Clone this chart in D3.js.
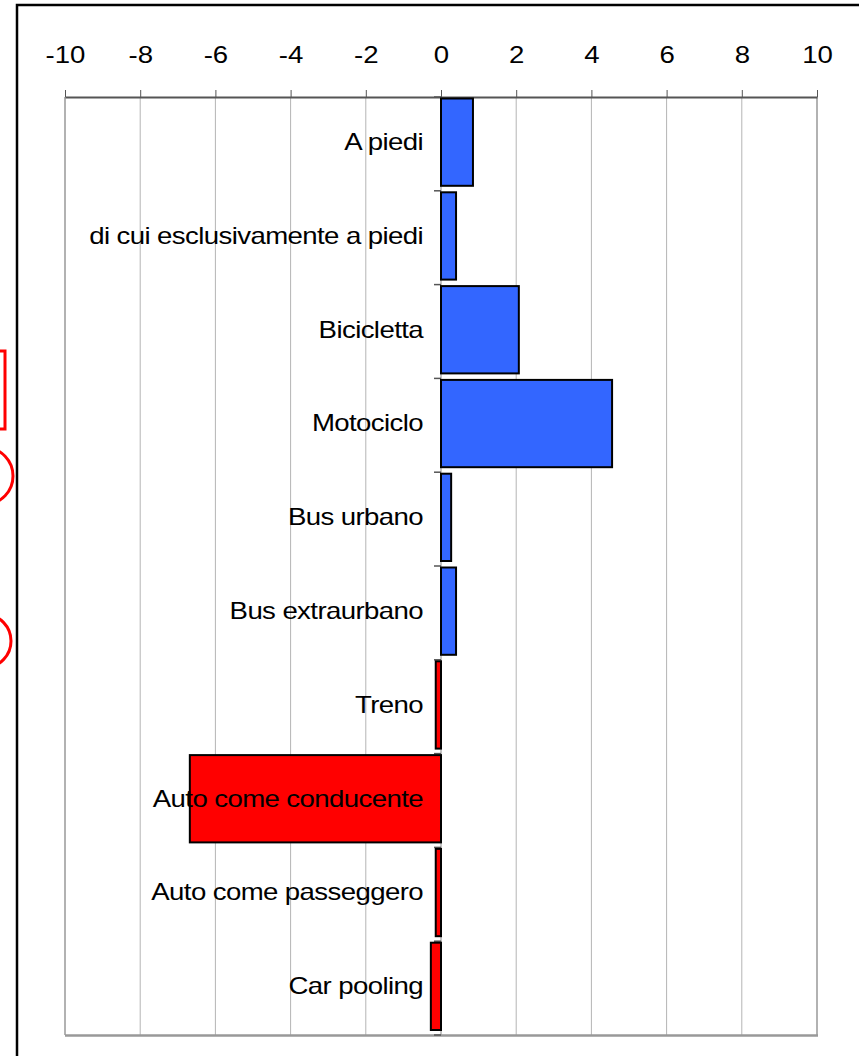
<!DOCTYPE html>
<html><head><meta charset="utf-8">
<script src="https://cdn.jsdelivr.net/npm/d3@7"></script>
<style>body{margin:0;background:#fff;} svg{display:block;}</style>
</head><body>
<svg id="c" width="859" height="1056"></svg>
<script>
const categories = ["A piedi","di cui esclusivamente a piedi","Bicicletta","Motociclo","Bus urbano","Bus extraurbano","Treno","Auto come conducente","Auto come passeggero","Car pooling"];
const values = [0.85, 0.4, 2.07, 4.55, 0.27, 0.4, -0.14, -6.68, -0.14, -0.27];
const tickValues = [-10,-8,-6,-4,-2,0,2,4,6,8,10];
const tickLabels = ["-10","-8","-6","-4","-2","0","2","4","6","8","10"];

const svg = d3.select("#c");
const L = 65, R = 817, T = 97, B = 1035;
const x = d3.scaleLinear().domain([-10,10]).range([L,R]);
const y = d3.scaleBand().domain(categories).range([T,B]).paddingInner(0).paddingOuter(0);
const bw = y.bandwidth();
const font = "'Liberation Sans', Arial, sans-serif";
const sx = 1.2;

// outer frame
svg.append("rect").attr("x",17).attr("y",5).attr("width",1000).attr("height",1200)
  .attr("fill","none").attr("stroke","#000").attr("stroke-width",2.5);

// red annotations at left edge
svg.append("rect").attr("x",-20).attr("y",351).attr("width",25).attr("height",78)
  .attr("fill","none").attr("stroke","#f00").attr("stroke-width",3);
svg.append("ellipse").attr("cx",-14).attr("cy",476).attr("rx",27).attr("ry",28)
  .attr("fill","none").attr("stroke","#f00").attr("stroke-width",3);
svg.append("ellipse").attr("cx",-14).attr("cy",641).attr("rx",25).attr("ry",26)
  .attr("fill","none").attr("stroke","#f00").attr("stroke-width",3);

// gridlines
svg.append("g").selectAll("line").data(tickValues.filter(d=>d!==-10 && d!==10)).join("line")
  .attr("x1",d=>x(d)).attr("x2",d=>x(d)).attr("y1",T).attr("y2",B)
  .attr("stroke",d=>d===0?"#888":"#b4b4b4").attr("stroke-width",1);

// plot border
svg.append("line").attr("x1",L).attr("x2",L).attr("y1",T).attr("y2",B).attr("stroke","#999").attr("stroke-width",1.5);
svg.append("line").attr("x1",R).attr("x2",R).attr("y1",T).attr("y2",B).attr("stroke","#999").attr("stroke-width",1.5);
svg.append("line").attr("x1",L).attr("x2",R+1).attr("y1",B+0.5).attr("y2",B+0.5).attr("stroke","#999").attr("stroke-width",2.5);

// top axis
const axis = d3.axisTop(x).tickValues(tickValues).tickFormat((d,i)=>tickLabels[i]).tickSize(7).tickSizeOuter(0);
const ag = svg.append("g").attr("transform",`translate(0,${T})`).call(axis);
ag.attr("font-size",null).attr("font-family",null);
ag.select(".domain").attr("stroke","#555").attr("stroke-width",2);
ag.selectAll(".tick line").attr("stroke","#555").attr("stroke-width",1);
ag.selectAll(".tick text")
  .attr("fill","#000")
  .style("font-family",font).style("font-size","23px")
  .attr("y",0).attr("dy",0).attr("x",0)
  .attr("text-anchor","middle")
  .attr("transform",`translate(0,-34) scale(${sx},1)`);

// category ticks at zero
svg.append("g").selectAll("line").data(d3.range(categories.length+1)).join("line")
  .attr("x1",x(0)-7).attr("x2",x(0)).attr("y1",i=>T+i*bw).attr("y2",i=>T+i*bw)
  .attr("stroke","#555").attr("stroke-width",1.5);

// bars
svg.append("g").selectAll("rect").data(categories).join("rect")
  .attr("x",(d,i)=>x(Math.min(0,values[i])))
  .attr("width",(d,i)=>Math.abs(x(values[i])-x(0)))
  .attr("y",d=>y(d)+1.5)
  .attr("height",bw-6.5)
  .attr("fill",(d,i)=>values[i]>=0?"#3366ff":"#ff0000")
  .attr("stroke","#000").attr("stroke-width",2);

// category labels
svg.append("g").selectAll("text").data(categories).join("text")
  .attr("transform",d=>`translate(${x(0)-18},${y(d)+bw/2+6}) scale(${sx},1)`)
  .attr("text-anchor","end")
  .style("font-family",font).style("font-size","23px").attr("letter-spacing","-0.5px")
  .attr("fill","#000")
  .text(d=>d);
</script>
</body></html>
